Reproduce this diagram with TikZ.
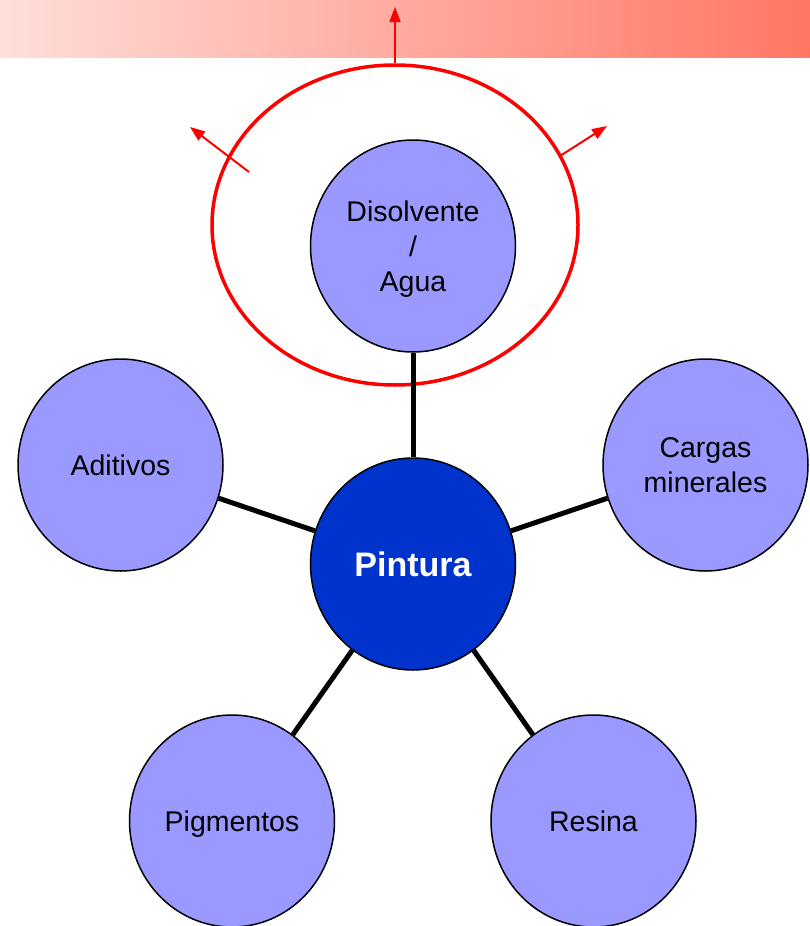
\documentclass[tikz,border=0pt]{standalone}
\usepackage{fontspec}
\setmainfont{Liberation Sans}
\usetikzlibrary{shapes.geometric,arrows.meta}
\definecolor{bandL}{RGB}{255,222,217}
\definecolor{bandR}{RGB}{255,118,100}
\definecolor{lilac}{RGB}{153,153,255}
\definecolor{deepblue}{RGB}{0,51,204}
\tikzset{
  comp/.style={ellipse,draw=black,line width=1.5pt,fill=lilac,minimum width=205pt,minimum height=212pt,inner sep=0pt,align=center,text depth=0pt,font=\fontsize{28.5}{35}\selectfont},
  core/.style={comp,fill=deepblue,text=white,font=\fontsize{34}{40}\selectfont\bfseries},
  conn/.style={line width=5pt,black},
  halo/.style={ellipse,draw=red,line width=3.5pt,minimum width=366pt,minimum height=320pt,inner sep=0pt},
  vapour/.style={red,line width=2pt,-{Triangle[length=15pt,width=11pt]}}
}
\begin{document}
\begin{tikzpicture}[x=1pt,y=-1pt]
\useasboundingbox (0,0) rectangle (810,926);
\shade[left color=bandL,right color=bandR] (0,0) rectangle (810,57);
\node[halo] (ring) at (395,225) {};
\coordinate (upTip) at (395,7);
\coordinate (lStart) at (249,172);
\coordinate (lTip) at (190,127);
\coordinate (rStart) at (560,156);
\coordinate (rTip) at (607,126);
\draw[vapour] (ring.north) -- (upTip);
\draw[vapour] (lStart) -- (lTip);
\draw[vapour] (rStart) -- (rTip);
\node[comp] (dis) at (413,246) {Disolvente\\/\\Agua};
\node[core] (pin) at (413,564) {Pintura};
\node[comp] (adi) at (120.5,465) {Aditivos};
\node[comp] (car) at (705.5,465) {Cargas\\minerales};
\node[comp] (pig) at (232,821) {Pigmentos};
\node[comp] (res) at (593.5,821) {Resina};
\draw[conn] (pin) -- (dis);
\draw[conn] (pin) -- (adi);
\draw[conn] (pin) -- (car);
\draw[conn] (pin) -- (pig);
\draw[conn] (pin) -- (res);
\end{tikzpicture}
\end{document}
